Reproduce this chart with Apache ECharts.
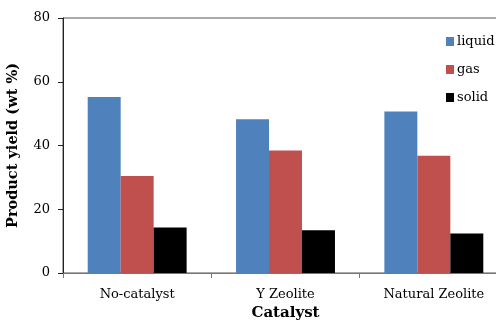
<!DOCTYPE html>
<html>
<head>
<meta charset="utf-8">
<script src="https://cdn.jsdelivr.net/npm/echarts@6/dist/echarts.min.js"></script>
<style>
  html, body { margin: 0; padding: 0; background: #fff; }
  #chart { width: 496px; height: 325px; }
</style>
</head>
<body>
<div id="chart"></div>
<script>
// categories and series values
var categories = ['No-catalyst', 'Y Zeolite', 'Natural Zeolite'];
var liquid = [55.2, 48.2, 50.7];
var gas = [30.4, 38.4, 36.8];
var solid = [14.3, 13.4, 12.4];
var yTicks = [0, 20, 40, 60, 80];

var font = 'DejaVu Serif';
var chart = echarts.init(document.getElementById('chart'));

function barSeries(name, data, color) {
    return {
        name: name,
        type: 'bar',
        data: data,
        barGap: '0%',
        barCategoryGap: '33.3%',
        itemStyle: { color: color },
        emphasis: { disabled: true }
    };
}

var option = {
    animation: false,
    textStyle: { fontFamily: font },
    grid: {
        left: 63,
        top: 18,
        bottom: 52,
        width: 445,
        containLabel: false,
        outerBoundsMode: 'none',
        show: true,
        borderColor: '#555',
        borderWidth: 1
    },
    legend: {
        orient: 'vertical',
        left: 446,
        top: 35,
        padding: 0,
        itemWidth: 8,
        itemHeight: 9,
        itemGap: 15,
        icon: 'rect',
        textStyle: { fontFamily: font, fontSize: 13, color: '#000', padding: [0, 0, 0, -2] },
        data: ['liquid', 'gas', 'solid']
    },
    xAxis: {
        type: 'category',
        data: categories,
        name: 'Catalyst',
        nameLocation: 'middle',
        nameGap: 31,
        nameTextStyle: { fontFamily: font, fontSize: 15, fontWeight: 'bold', color: '#000' },
        axisLine: { lineStyle: { color: '#777', width: 1 } },
        axisTick: { show: true, length: 5, lineStyle: { color: '#777' } },
        axisLabel: { fontFamily: font, fontSize: 13, color: '#000', margin: 15 }
    },
    yAxis: {
        type: 'value',
        min: yTicks[0],
        max: yTicks[yTicks.length - 1],
        interval: 20,
        name: 'Product yield (wt %)',
        nameLocation: 'middle',
        nameGap: 42,
        nameTextStyle: { fontFamily: font, fontSize: 14.5, fontWeight: 'bold', color: '#000' },
        axisLine: { show: true, lineStyle: { color: '#222', width: 1 } },
        axisTick: { show: true, length: 5, lineStyle: { color: '#222' } },
        axisLabel: { fontFamily: font, fontSize: 13, color: '#000', margin: 13 },
        splitLine: { show: false }
    },
    series: [
        barSeries('liquid', liquid, '#4F81BD'),
        barSeries('gas', gas, '#C0504D'),
        barSeries('solid', solid, '#000000')
    ]
};
chart.setOption(option);
</script>
</body>
</html>
